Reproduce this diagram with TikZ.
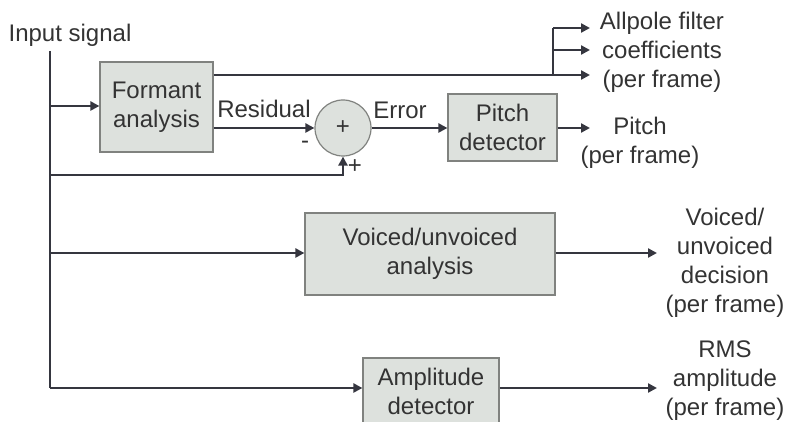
\documentclass[tikz,border=0pt]{standalone}
\usepackage{fontspec}
\setmainfont{Liberation Sans}
\usetikzlibrary{arrows.meta}
\definecolor{wire}{HTML}{35363F}
\definecolor{boxfill}{HTML}{DDE1DD}
\definecolor{boxline}{HTML}{80827F}
\definecolor{ink}{HTML}{333333}
\tikzset{
	blockbox/.style={draw=boxline, line width=0.6pt, fill=boxfill, align=center, inner sep=0pt, text=ink},
	sumbox/.style={circle, draw=boxline, line width=0.6pt, fill=boxfill, minimum size=28pt, inner sep=0pt, text=ink},
	lbl/.style={align=center, inner sep=0pt, text=ink},
	wireline/.style={draw=wire, line width=1.4pt},
	arr/.style={wireline, -{Triangle[length=4.5pt,width=4.5pt]}},
}

\begin{document}
\begin{tikzpicture}[x=0.5pt, y=-0.5pt, font=\fontsize{12}{14.5}\selectfont]
			%%%%% START %%%%%
			\useasboundingbox (0,0) rectangle (789,422);
			
			\node[lbl] (input) at (70,35) {Input signal};
			\coordinate (intop) at (50,51);
			\coordinate (inbot) at (50,388);
			\draw[wireline] (intop) -- (inbot);
			
			% blocks
			\node[blockbox, minimum width=56.5pt, minimum height=45pt] (formant) at (156.5,107) {Formant\\analysis};
			\node[sumbox] (sum) at (343,128) {+};
			\node[blockbox, minimum width=54.5pt, minimum height=33.5pt] (pitch) at (502.5,127.5) {Pitch\\detector};
			\node[blockbox, minimum width=125pt, minimum height=41pt] (voiced) at (430,254) {Voiced/unvoiced\\analysis};
			\node[blockbox, minimum width=68pt, minimum height=33pt] (amp) at (431,391) {Amplitude\\detector};
			
			% outputs
			\node[lbl] (lpcout) at (662,52) {Allpole filter\\coefficients\\(per frame)};
			\node[lbl] (pitchout) at (640,142.5) {Pitch\\(per frame)};
			\node[lbl] (voicedout) at (725,263) {Voiced/\\unvoiced\\decision\\(per frame)};
			\node[lbl] (rmsout) at (725,381) {RMS\\amplitude\\(per frame)};
			
			\coordinate (split) at (553,75);
			\coordinate (lpc1) at (590,28);
			\coordinate (lpc2) at (590,50);
			\coordinate (lpc3) at (590,75);
			\coordinate (pitchend) at (590,128);
			\coordinate (voicedend) at (657,253);
			\coordinate (rmsend) at (657,388);
			
			% input taps
			\draw[arr] (50,106) -- (formant.west |- 0,106);
			\draw[arr] (50,175) -| (sum.south);
			\draw[arr] (50,253) -- (voiced.west |- 0,253);
			\draw[arr] (inbot) -- (amp.west |- inbot);
			
			% formant outputs
			\draw[wireline] (formant.east |- split) -- (split);
			\draw[wireline] (split) -- (split |- lpc1);
			\draw[arr] (split |- lpc1) -- (lpc1);
			\draw[arr] (split |- lpc2) -- (lpc2);
			\draw[arr] (split) -- (lpc3);
			\draw[arr] (formant.east |- sum) -- (sum.west);
			\node[lbl] (residual) at (264,109) {Residual};
			\node[lbl] (minus) at (305,145) {-};
			\node[lbl] (plus) at (355,167) {+};
			
			\draw[arr] (sum.east) -- (pitch.west |- sum);
			\node[lbl] (error) at (400,110) {Error};
			\draw[arr] (pitch.east |- pitchend) -- (pitchend);
			
			\draw[arr] (voiced.east |- voicedend) -- (voicedend);
			\draw[arr] (amp.east |- rmsend) -- (rmsend);
			
			%%%%% END %%%%%
\end{tikzpicture}
\end{document}
